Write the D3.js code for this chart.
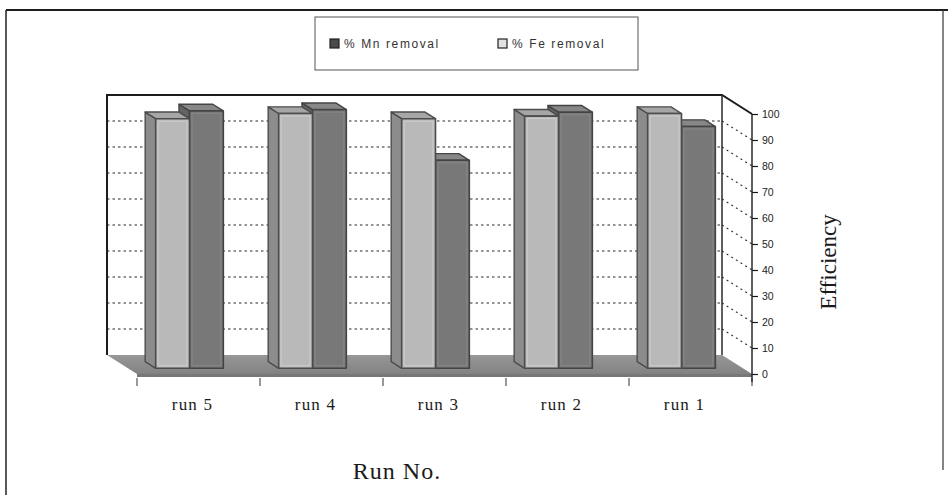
<!DOCTYPE html>
<html>
<head>
<meta charset="utf-8">
<script src="https://cdn.jsdelivr.net/npm/d3@7"></script>
<style>
  html, body { margin: 0; padding: 0; background: #fff; }
  svg { display: block; }
</style>
</head>
<body>
<svg id="chart" width="948" height="495"></svg>
<script>
// ---- data ----
const categories = ["run 5", "run 4", "run 3", "run 2", "run 1"];
const seriesKeys = ["Fe", "Mn"];                 // order inside each cluster, left to right
const legendLabels = ["% Mn removal", "% Fe removal"];
const mnRemoval = [99, 99.5, 80, 98.5, 93];
const feRemoval = [96, 98, 96, 97, 98];
const yTicks = [0, 10, 20, 30, 40, 50, 60, 70, 80, 90, 100];
const gridValues = [10, 20, 30, 40, 50, 60, 70, 80, 90];
const xTitle = "Run No.";
const yTitle = "Efficiency";

// ---- styling ----
const faceColors = {
  Fe: { front: "#b9b9b9", side: "#8c8c8c", top: "#a6a6a6", stroke: "#4c4c4c" },
  Mn: { front: "#787878", side: "#646464", top: "#878787", stroke: "#444444" }
};

const svg = d3.select("#chart");

// ---- scales and oblique projection ----
const frontLeft = 137, frontRight = 752;
const depth = { dx: -30, dy: -19 };            // offset from front plane to back wall
const barZ = [0.3, 0.65];                      // depth span occupied by the columns

const y = d3.scaleLinear().domain([0, 100]).range([374, 114]);
const x0 = d3.scaleBand().domain(categories).range([frontLeft, frontRight])
  .paddingInner(0.45).paddingOuter(0.225);
const x1 = d3.scaleBand().domain(seriesKeys).range([0, x0.bandwidth()]);

const P = (x, v, z) => [x + z * depth.dx, y(v) + z * depth.dy];
const poly = pts => "M" + pts.map(p => p[0].toFixed(2) + "," + p[1].toFixed(2)).join("L") + "Z";
const line = (a, b) => "M" + a.join(",") + "L" + b.join(",");

// ---- outer frame ----
svg.append("path").attr("d", "M6,495L6,10").attr("stroke", "#222").attr("stroke-width", 1.5).attr("fill", "none");
svg.append("path").attr("d", "M6,10L948,10").attr("stroke", "#1e1e1e").attr("stroke-width", 2.2).attr("fill", "none");
svg.append("path").attr("d", "M943,10L943,470").attr("stroke", "#333").attr("stroke-width", 1.2).attr("fill", "none");

// ---- walls and floor ----
const walls = svg.append("g");
walls.append("path")
  .attr("d", poly([P(frontLeft, 0, 1), P(frontRight, 0, 1), P(frontRight, 100, 1), P(frontLeft, 100, 1)]))
  .attr("fill", "#fff");
walls.append("path")
  .attr("d", poly([P(frontRight, 0, 0), P(frontRight, 0, 1), P(frontRight, 100, 1), P(frontRight, 100, 0)]))
  .attr("fill", "#fff");

// gridlines on the back wall
walls.selectAll("path.grid-back").data(gridValues).join("path")
  .attr("class", "grid-back")
  .attr("d", v => line(P(frontLeft, v, 1), P(frontRight, v, 1)))
  .attr("stroke", "#2a2a2a").attr("stroke-width", 1.1).attr("stroke-dasharray", "2.5,3").attr("fill", "none");
// gridlines on the side wall
walls.selectAll("path.grid-side").data(gridValues).join("path")
  .attr("class", "grid-side")
  .attr("d", v => line(P(frontRight, v, 1), P(frontRight, v, 0)))
  .attr("stroke", "#2a2a2a").attr("stroke-width", 1.1).attr("stroke-dasharray", "2,3.5").attr("fill", "none");

// wall edges
walls.append("path")
  .attr("d", "M" + [P(frontLeft, 0, 1), P(frontLeft, 100, 1), P(frontRight, 100, 1), P(frontRight, 100, 0)].map(p => p.join(",")).join("L"))
  .attr("stroke", "#1c1c1c").attr("stroke-width", 2).attr("fill", "none");
walls.append("path")
  .attr("d", line(P(frontRight, 100, 1), P(frontRight, 0, 1)))
  .attr("stroke", "#2a2a2a").attr("stroke-width", 1.5).attr("fill", "none");

// floor
const floorGrad = svg.append("defs").append("linearGradient")
  .attr("id", "floorGrad").attr("x1", 0).attr("y1", 0).attr("x2", 0).attr("y2", 1);
floorGrad.append("stop").attr("offset", "0%").attr("stop-color", "#979797");
floorGrad.append("stop").attr("offset", "100%").attr("stop-color", "#828282");
walls.append("path")
  .attr("d", poly([P(frontLeft, 0, 0), P(frontRight, 0, 0), P(frontRight, 0, 1), P(frontLeft, 0, 1)]))
  .attr("fill", "url(#floorGrad)");
walls.append("path")
  .attr("d", poly([P(frontLeft, 0, 0), P(frontRight, 0, 0), [P(frontRight, 0, 0)[0], P(frontRight, 0, 0)[1] + 3], [P(frontLeft, 0, 0)[0], P(frontLeft, 0, 0)[1] + 3]]))
  .attr("fill", "#777");

// ---- columns ----
const rows = categories.map((c, i) => ({ category: c, Fe: feRemoval[i], Mn: mnRemoval[i] }));
const barsG = svg.append("g");

rows.forEach(row => {
  // right-hand column first so the left one hides its side face
  seriesKeys.slice().reverse().forEach(key => {
    const v = row[key];
    const xa = x0(row.category) + x1(key);
    const xb = xa + x1.bandwidth();
    const col = faceColors[key];
    const g = barsG.append("g");
    const [z0, z1] = barZ;
    g.append("path")
      .attr("d", poly([P(xa, 0, z0), P(xa, v, z0), P(xa, v, z1), P(xa, 0, z1)]))
      .attr("fill", col.side).attr("stroke", col.stroke).attr("stroke-width", 1.4).attr("stroke-linejoin", "round");
    g.append("path")
      .attr("d", poly([P(xa, v, z0), P(xb, v, z0), P(xb, v, z1), P(xa, v, z1)]))
      .attr("fill", col.top).attr("stroke", col.stroke).attr("stroke-width", 1.4).attr("stroke-linejoin", "round");
    g.append("path")
      .attr("d", poly([P(xa, 0, z0), P(xb, 0, z0), P(xb, v, z0), P(xa, v, z0)]))
      .attr("fill", col.front).attr("stroke", col.stroke).attr("stroke-width", 1.6).attr("stroke-linejoin", "round");
    // faint inner highlight along the front face
    const a = P(xa, 0, z0), b = P(xb, v, z0);
    g.append("rect")
      .attr("x", a[0] + 2.5).attr("y", b[1] + 2.5)
      .attr("width", Math.max(0, b[0] - a[0] - 5)).attr("height", Math.max(0, a[1] - b[1] - 5))
      .attr("fill", "none").attr("stroke", key === "Fe" ? "#cdcdcd" : "#888").attr("stroke-width", 1);
  });
});

// ---- value axis (front right edge) ----
const axisG = svg.append("g").attr("transform", `translate(${frontRight},0)`);
axisG.call(d3.axisRight(y).tickValues(yTicks).tickSize(6).tickPadding(4))
  .call(g => g.select(".domain").attr("d", `M0,${y(100)}V${y(0) + 8}`).attr("stroke", "#1a1a1a").attr("stroke-width", 1.4))
  .call(g => g.selectAll(".tick line").attr("stroke", "#1a1a1a").attr("stroke-width", 1.2))
  .call(g => g.selectAll(".tick text")
    .attr("font-family", "Arial, 'Liberation Sans', sans-serif").attr("font-size", 10.5).attr("fill", "#222"));

// ---- category ticks and labels ----
const catTicks = d3.range(categories.length + 1).map(i => frontLeft + i * x0.step());
svg.append("g").selectAll("line").data(catTicks).join("line")
  .attr("x1", d => d).attr("x2", d => d)
  .attr("y1", y(0) + 4).attr("y2", y(0) + 12)
  .attr("stroke", "#333").attr("stroke-width", 1);
svg.append("g").selectAll("text").data(categories).join("text")
  .attr("x", d => x0(d) + x0.bandwidth() / 2 - 6)
  .attr("y", 410)
  .attr("text-anchor", "middle")
  .attr("font-family", "'Liberation Serif', 'Times New Roman', serif")
  .attr("font-size", 17).attr("letter-spacing", 1.2).attr("fill", "#1a1a1a")
  .text(d => d);

// ---- axis titles ----
svg.append("text")
  .attr("x", 397).attr("y", 479).attr("text-anchor", "middle")
  .attr("font-family", "'Liberation Serif', 'Times New Roman', serif")
  .attr("font-size", 24).attr("letter-spacing", 1).attr("fill", "#1a1a1a")
  .text(xTitle);
svg.append("text")
  .attr("transform", "translate(836,262) rotate(-90)").attr("text-anchor", "middle")
  .attr("font-family", "'Liberation Serif', 'Times New Roman', serif")
  .attr("font-size", 23).attr("fill", "#1a1a1a")
  .text(yTitle);

// ---- legend ----
const legend = svg.append("g");
legend.append("rect").attr("x", 315).attr("y", 17).attr("width", 323).attr("height", 53)
  .attr("fill", "#fff").attr("stroke", "#555").attr("stroke-width", 1);
const legendItems = [
  { label: legendLabels[0], key: "Mn", x: 330 },
  { label: legendLabels[1], key: "Fe", x: 498 }
];
const li = legend.selectAll("g.item").data(legendItems).join("g").attr("class", "item")
  .attr("transform", d => `translate(${d.x},39)`);
li.append("rect").attr("width", 9).attr("height", 9)
  .attr("fill", d => d.key === "Mn" ? "#4a4a4a" : "#e2e2e2")
  .attr("stroke", "#222").attr("stroke-width", 1.2);
li.append("text").attr("x", 14).attr("y", 9)
  .attr("font-family", "Arial, 'Liberation Sans', sans-serif")
  .attr("font-size", 12).attr("letter-spacing", 1.6).attr("fill", "#333")
  .text(d => d.label);
</script>
</body>
</html>
